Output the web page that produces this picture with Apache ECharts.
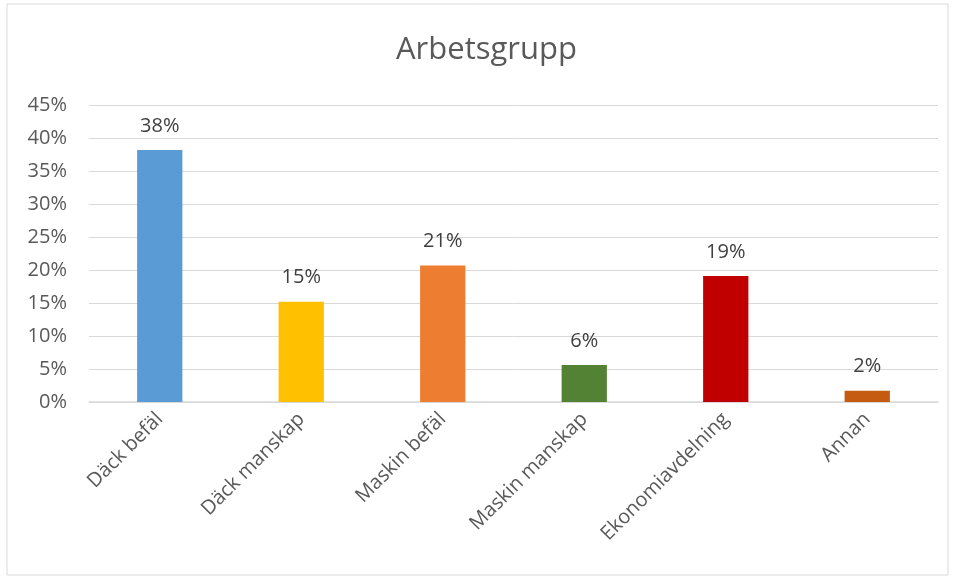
<!DOCTYPE html>
<html lang="sv">
<head>
<meta charset="UTF-8">
<title>Arbetsgrupp</title>
<script src="https://cdn.jsdelivr.net/npm/echarts@6/dist/echarts.min.js"></script>
<style>
  html, body { margin: 0; padding: 0; background: #fff; }
  #chart { width: 955px; height: 578px; }
</style>
</head>
<body>
<div id="chart"></div>
<script>
var categories = ['Däck befäl', 'Däck manskap', 'Maskin befäl', 'Maskin manskap', 'Ekonomiavdelning', 'Annan'];
var values = [38.2, 15.2, 20.7, 5.6, 19.1, 1.7];
var colors = ['#5B9BD5', '#FFC000', '#ED7D31', '#548235', '#C00000', '#C55A11'];

var font = '"Open Sans", "Liberation Sans", sans-serif';
var myChart = echarts.init(document.getElementById('chart'));

myChart.setOption({
    animation: false,
    title: {
        text: 'Arbetsgrupp',
        left: 391,
        top: 30,
        textStyle: { fontFamily: font, fontSize: 31, fontWeight: 'normal', color: '#595959' }
    },
    graphic: [{
        type: 'rect',
        shape: { x: 7, y: 4, width: 941, height: 571 },
        style: { fill: 'none', stroke: '#d9d9d9', lineWidth: 1 },
        silent: true
    }],
    grid: { left: 89, right: 17, top: 105, bottom: 176 },
    xAxis: {
        type: 'category',
        data: categories,
        axisLine: { lineStyle: { color: '#d9d9d9', width: 1.5 } },
        axisTick: { show: false },
        axisLabel: {
            rotate: 45,
            interval: 0,
            margin: 14,
            fontFamily: font,
            fontSize: 20,
            color: '#595959'
        }
    },
    yAxis: {
        type: 'value',
        min: 0,
        max: 45,
        interval: 5,
        axisLine: { show: false },
        axisTick: { show: false },
        splitLine: { lineStyle: { color: '#d9d9d9', width: 1 } },
        axisLabel: {
            formatter: '{value}%',
            margin: 22,
            fontFamily: font,
            fontSize: 20,
            color: '#595959'
        }
    },
    series: [{
        type: 'bar',
        barWidth: '32%',
        data: values.map(function (v, i) {
            return { value: v, itemStyle: { color: colors[i] } };
        }),
        label: {
            show: true,
            position: 'top',
            distance: 14,
            formatter: function (p) { return Math.round(p.value) + '%'; },
            fontFamily: font,
            fontSize: 20,
            color: '#404040'
        }
    }]
});
</script>
</body>
</html>
